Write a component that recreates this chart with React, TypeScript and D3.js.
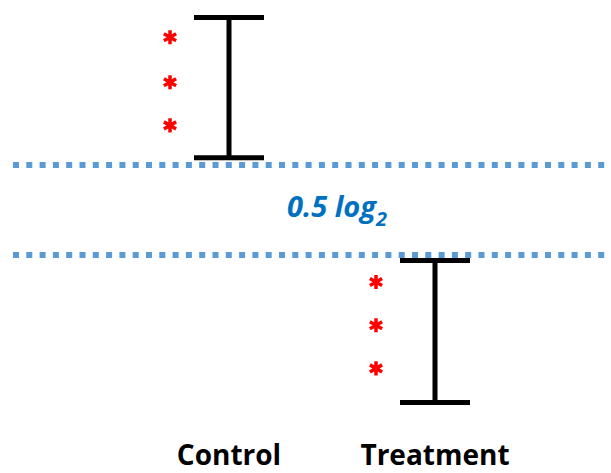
import React from "react";
import * as d3 from "d3";

// groups and their interval (log2 units)
const groups = ["Control", "Treatment"];
const lows = [0.29, -1.07];
const highs = [1.07, -0.28];
// significance stars, one list per group
const starsControl = [0.96, 0.71, 0.47];
const starsTreatment = [-0.4, -0.64, -0.88];
// dotted reference lines
const thresholds = [0.25, -0.25];
const bandLabel = "0.5 log";
const bandSub = "2";

const width = 611;
const height = 473;

const App = () => {
  const x = d3.scalePoint<string>().domain(groups).range([229, 435]);
  const y = d3.scaleLinear().domain([-1, 1]).range([390, 30]);
  const capHalf = 35;
  const starOffset = -59;
  const star = d3.symbol(d3.symbolAsterisk, 140)();
  const starSets = [starsControl, starsTreatment];

  return (
    <div style={{ position: "fixed", left: 0, top: 0 }}>
      <svg width={width} height={height} style={{ display: "block", background: "#fff" }}>
        {thresholds.map((t, i) => (
          <line
            key={"t" + i}
            x1={13}
            x2={width}
            y1={y(t)}
            y2={y(t)}
            stroke="#5b9bd5"
            strokeWidth={6}
            strokeDasharray="6 7.3"
          />
        ))}
        {groups.map((g, i) => {
          const cx = x(g)!;
          return (
            <g key={g} stroke="#000" strokeWidth={5}>
              <line x1={cx} x2={cx} y1={y(highs[i])} y2={y(lows[i])} />
              <line x1={cx - capHalf} x2={cx + capHalf} y1={y(highs[i])} y2={y(highs[i])} />
              <line x1={cx - capHalf} x2={cx + capHalf} y1={y(lows[i])} y2={y(lows[i])} />
            </g>
          );
        })}
        {starSets.map((set, i) =>
          set.map((v, j) => (
            <path
              key={i + "-" + j}
              d={star!}
              transform={`translate(${x(groups[i])! + starOffset},${y(v)})`}
              stroke="#ff0000"
              strokeWidth={3.5}
              fill="none"
            />
          ))
        )}
        <text
          x={337}
          y={217}
          textAnchor="middle"
          fill="#0070c0"
          fontFamily="'Open Sans', sans-serif"
          fontWeight="bold"
          fontStyle="italic"
          fontSize={29}
        >
          {bandLabel}
          <tspan fontSize={20} dy={9}>{bandSub}</tspan>
        </text>
        {groups.map((g) => (
          <text
            key={"l" + g}
            x={x(g)!}
            y={465}
            textAnchor="middle"
            fontFamily="'Open Sans', sans-serif"
            fontWeight="bold"
            fontSize={28}
            fill="#000"
          >
            {g}
          </text>
        ))}
      </svg>
    </div>
  );
};

export default App;
